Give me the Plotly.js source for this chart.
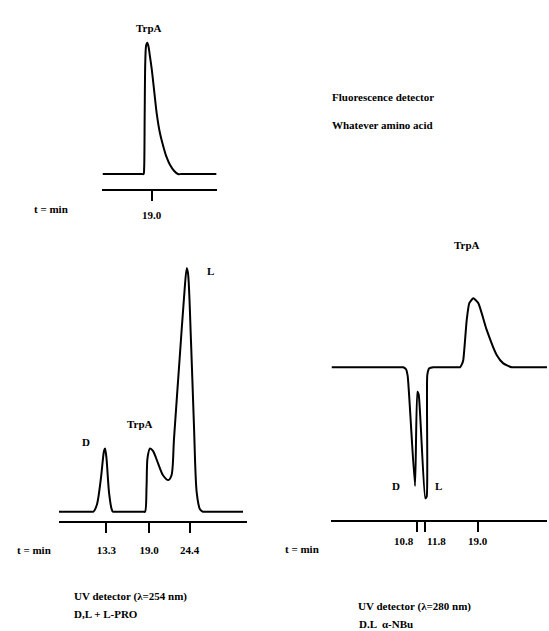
<!DOCTYPE html>
<html>
<head>
<meta charset="utf-8">
<script src="https://cdn.plot.ly/plotly-3.0.1.min.js"></script>
<style>html,body{margin:0;padding:0;background:#fff;}#chart{width:549px;height:631px;}</style>
</head>
<body>
<div id="chart"></div>
<script>
// ---- Data (time in min, relative detector signal) ----
// Fluorescence detector, whatever amino acid
const fluoTime   = [12.38, 17.70, 17.90, 17.98, 18.05, 18.13, 18.25, 18.41, 18.57, 18.75, 19.00, 19.34, 19.68, 20.12, 20.57, 21.00, 21.47, 22.01, 22.55, 23.00, 27.78];
const fluoSignal = [0.00,  0.00,  0.00,  0.05,  0.45,  0.85,  0.98,  1.00,  0.97,  0.90,  0.80,  0.63,  0.46,  0.31,  0.21,  0.13,  0.07,  0.025, 0.00,  0.00,  0.00];
const fluoTicks  = [19.0];

// UV detector (254 nm), D,L + L-PRO
const uv254Time   = [6.97, 11.30, 11.55, 12.04, 12.58, 12.98, 13.12, 13.31, 13.65, 14.01, 14.18, 14.50, 18.20, 18.46, 18.66, 18.79, 19.12, 19.52, 20.19, 20.86, 21.57, 22.00, 22.33, 23.13, 23.67, 24.03, 24.20, 24.60, 25.00, 25.36, 25.80, 26.20, 26.60, 31.55];
const uv254Signal = [0.00, 0.00,  0.00,  0.03,  0.14,  0.25,  0.26,  0.22,  0.08,  0.01,  0.00,  0.00,  0.00,  0.00,  0.10,  0.22,  0.26,  0.25,  0.20,  0.15,  0.13,  0.15,  0.30,  0.65,  0.88,  1.00,  0.98,  0.70,  0.35,  0.08,  0.01,  0.00,  0.00,  0.00];
const uv254Ticks  = [13.3, 19.0, 24.4];

// UV detector (280 nm), D.L alpha-NBu
const uv280Time   = [-0.69, 8.60, 8.93, 9.30, 9.53, 10.51, 10.82, 11.01, 11.89, 12.08, 12.16, 12.43, 12.97, 13.40, 16.30, 16.56, 16.79, 17.00, 17.46, 17.81, 18.35, 19.02, 20.15, 21.49, 22.38, 23.51, 24.00, 28.39];
const uv280Signal = [0.00,  0.00, 0.00, -0.015, -0.07, -0.906, -0.186, -0.21, -1.00, -0.988, -0.06, -0.008, 0.00, 0.00, 0.00, 0.00, 0.02, 0.056, 0.36, 0.49, 0.527, 0.49, 0.285, 0.094, 0.03, 0.00, 0.00, 0.00];
const uv280Ticks  = [10.8, 11.8, 19.0];

// Peak labels (time position of the label, vertical position in the figure)
const fluoPeakLabels  = ["TrpA"];
const fluoPeakTimes   = [18.6];
const uv254PeakLabels = ["D", "TrpA", "L"];
const uv254PeakTimes  = [10.57, 17.79, 27.14];
const uv254PeakLevels = [0.286, 0.360, 0.989];
const uv280PeakLabels = ["D", "L", "TrpA"];
const uv280PeakTimes  = [8.0, 13.65, 17.5];

// ---- Style ----
const FONT = "Liberation Serif, Times New Roman, serif";
const lineStyle = {color: "#000", width: 2, shape: "spline", smoothing: 0.8};

const traces = [
  {x: fluoTime,  y: fluoSignal,  xaxis: "x",  yaxis: "y",  type: "scatter", mode: "lines", line: lineStyle, hoverinfo: "skip"},
  {x: uv254Time, y: uv254Signal, xaxis: "x2", yaxis: "y2", type: "scatter", mode: "lines", line: lineStyle, hoverinfo: "skip"},
  {x: uv280Time, y: uv280Signal, xaxis: "x3", yaxis: "y3", type: "scatter", mode: "lines", line: Object.assign({}, lineStyle, {smoothing: 0.5}), hoverinfo: "skip"}
];

function xAxis(domain, range, ticks, anchor, showLabels, standoff) {
  return {
    domain: domain, range: range, anchor: anchor,
    showgrid: false, zeroline: false,
    showline: true, linecolor: "#000", linewidth: 2,
    ticks: "outside", ticklen: 10, tickwidth: 2, tickcolor: "#000",
    tickvals: ticks, ticktext: ticks.map(v => v.toFixed(1)),
    showticklabels: showLabels, ticklabelstandoff: standoff,
    tickfont: {family: FONT, size: 11, color: "#000", weight: "bold"},
    fixedrange: true
  };
}
function yAxis(domain, range, anchor) {
  return {domain: domain, range: range, anchor: anchor, visible: false, showgrid: false, zeroline: false, fixedrange: true};
}

const annFont = {family: FONT, size: 11, color: "#000", weight: "bold"};
const annotations = [];
function ann(text, x, xr, y, yr) {
  annotations.push({text: text, x: x, xref: xr, y: y, yref: yr, showarrow: false, font: annFont});
}
// top panel label (above the plot area)
ann(fluoPeakLabels[0], fluoPeakTimes[0], "x", 1 - 20 / 631, "paper");
// middle panel labels
uv254PeakLabels.forEach((t, i) => ann(t, uv254PeakTimes[i], "x2", uv254PeakLevels[i], "y2"));
// right panel labels
const uv280LabelRows = [494, 494, 245];
uv280PeakLabels.forEach((t, i) => ann(t, uv280PeakTimes[i], "x3", 1 - uv280LabelRows[i] / 631, "paper"));

// Tick labels of the right panel, spread apart like the original
const uv280TickShift = [-13, 12, 0];
uv280Ticks.forEach((v, i) => annotations.push({
  text: v.toFixed(1), x: v, xref: "x3", y: 1 - 549 / 631, yref: "paper",
  xshift: uv280TickShift[i], showarrow: false, font: annFont
}));

// Free texts
const freeText = [
  {text: "t = min", x: 32, y: 209},
  {text: "t = min", x: 15, y: 550},
  {text: "t = min", x: 283, y: 549},
  {text: "Fluorescence detector", x: 330, y: 97},
  {text: "Whatever amino acid", x: 330, y: 125},
  {text: "UV detector (\u03bb=254 nm)", x: 72, y: 596},
  {text: "D,L + L-PRO", x: 72, y: 614},
  {text: "UV detector (\u03bb=280 nm)", x: 356, y: 606},
  {text: "D.L  \u03b1-NBu", x: 357, y: 624}
];
freeText.forEach(f => annotations.push({
  text: f.text, x: f.x / 549, y: 1 - f.y / 631, xref: "paper", yref: "paper",
  xanchor: "left", yanchor: "middle", showarrow: false, font: annFont
}));

const layout = {
  width: 549, height: 631,
  margin: {l: 0, r: 0, t: 0, b: 0},
  paper_bgcolor: "#fff", plot_bgcolor: "#fff",
  showlegend: false,
  xaxis:  xAxis([101.7 / 549, 216.5 / 549], [12.24, 27.76], fluoTicks, "y", true, 5),
  yaxis:  yAxis([1 - 188.5 / 631, 1 - 37 / 631], [-0.11, 1.043], "x"),
  xaxis2: xAxis([59 / 549, 247 / 549], [6.97, 32.08], uv254Ticks, "y2", true, 8),
  yaxis2: yAxis([1 - 521 / 631, 1 - 262 / 631], [-0.038, 1.026], "x2"),
  xaxis3: xAxis([331 / 549, 547 / 549], [-0.79, 28.26], uv280Ticks, "y3", false, 8),
  yaxis3: yAxis([1 - 519.5 / 631, 1 - 290 / 631], [-1.162, 0.59], "x3"),
  annotations: annotations
};

Plotly.newPlot("chart", traces, layout, {staticPlot: true, displayModeBar: false});
</script>
</body>
</html>
